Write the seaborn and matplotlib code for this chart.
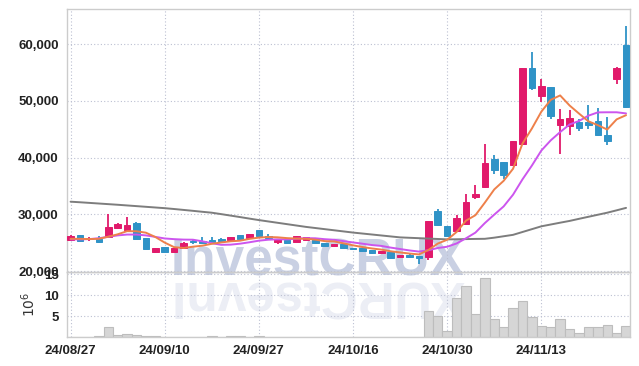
import matplotlib
matplotlib.use("Agg")
import matplotlib.pyplot as plt
import seaborn as sns
import numpy as np
import pandas as pd

# trading days (yy/mm/dd)
dates = ["24/08/27", "24/08/28", "24/08/29", "24/08/30", "24/09/02", "24/09/03", "24/09/04", "24/09/05",
         "24/09/06", "24/09/09", "24/09/10", "24/09/11", "24/09/12", "24/09/13", "24/09/19", "24/09/20",
         "24/09/23", "24/09/24", "24/09/25", "24/09/26", "24/09/27", "24/09/30", "24/10/02", "24/10/04",
         "24/10/07", "24/10/08", "24/10/10", "24/10/11", "24/10/14", "24/10/15", "24/10/16", "24/10/17",
         "24/10/18", "24/10/21", "24/10/22", "24/10/23", "24/10/24", "24/10/25", "24/10/28", "24/10/29",
         "24/10/30", "24/10/31", "24/11/01", "24/11/04", "24/11/05", "24/11/06", "24/11/07", "24/11/08",
         "24/11/11", "24/11/12", "24/11/13", "24/11/14", "24/11/15", "24/11/18", "24/11/19", "24/11/20",
         "24/11/21", "24/11/22", "24/11/25", "24/11/26"]

opens = [25460, 26420, 25600, 25710, 25990, 27650, 27230, 28410, 25820, 23420,
         24230, 23420, 24000, 25290, 25290, 25410, 25710, 25530, 26290, 25820,
         27230, 26240, 25180, 25410, 25120, 25530, 25820, 24940, 24350, 24820,
         23990, 24050, 23700, 23120, 23350, 22530, 22880, 22710, 22530, 30580,
         27880, 27050, 28290, 33060, 34820, 39710, 39180, 38700, 42410, 55770,
         50880, 52420, 45710, 45590, 46240, 46240, 46410, 44060, 53940, 59830]
highs = [26300, 26450, 25950, 26170, 30120, 28450, 29520, 28600, 25900, 24050,
         24250, 24100, 25100, 25700, 25990, 26000, 25900, 26100, 26400, 26600,
         27300, 26600, 25750, 25450, 26200, 26050, 25900, 25000, 24750, 24850,
         24050, 24100, 23750, 23600, 23400, 22880, 22950, 22750, 28800, 31000,
         27950, 29880, 33580, 35170, 42480, 40410, 39250, 43000, 55800, 58540,
         53780, 52500, 48530, 48410, 46770, 49240, 48800, 47170, 55950, 63240]
lows = [25400, 25250, 25300, 25000, 25900, 27350, 27100, 25600, 23900, 23150,
        23400, 23400, 23900, 24800, 24800, 24900, 25100, 25400, 25600, 25700,
        26100, 25700, 24850, 24700, 25050, 25450, 24900, 24300, 24300, 23950,
        23850, 23500, 23050, 23050, 22300, 22450, 22350, 21180, 22000, 27950,
        26100, 26950, 28200, 32770, 34600, 37060, 36180, 38500, 42180, 51940,
        49820, 46890, 40710, 44070, 44700, 45000, 43800, 42300, 53050, 48800]
closes = [26240, 25290, 25800, 25180, 27830, 28360, 28060, 25710, 23950, 24000,
          23420, 24050, 25000, 25060, 24940, 25060, 25240, 25990, 25640, 26530,
          26170, 25760, 25710, 24940, 26120, 25990, 25000, 24410, 24700, 24050,
          23940, 23530, 23120, 23530, 22360, 22830, 22410, 22240, 28760, 28060,
          26170, 29290, 32240, 33530, 39120, 37820, 36880, 42880, 55770, 52360,
          52590, 47350, 46770, 46940, 45240, 45760, 43940, 42940, 55880, 48940]

# volume in millions of shares
volumes = [0.02, 0.02, 0.05, 0.2, 2.3, 0.5, 0.7, 0.5, 0.25, 0.25,
           0.02, 0.02, 0.02, 0.02, 0.02, 0.3, 0.02, 0.25, 0.25, 0.02,
           0.25, 0.02, 0.02, 0.02, 0.02, 0.02, 0.02, 0.02, 0.02, 0.02,
           0.02, 0.02, 0.02, 0.02, 0.02, 0.02, 0.02, 0.02, 6.1, 5.0,
           1.5, 9.3, 12.1, 5.6, 14.0, 4.2, 2.3, 6.8, 8.5, 4.7,
           2.6, 2.3, 4.2, 2.0, 1.05, 2.3, 2.3, 2.8, 1.05, 2.6]

# moving average lines
ma_short = [25700, 25700, 25650, 25700, 26070, 26490, 27050, 27030, 26780, 26020,
            25030, 24230, 24080, 24310, 24490, 24820, 25060, 25260, 25370, 25690,
            25910, 26020, 25960, 25820, 25740, 25700, 25550, 25290, 25240, 24900,
            24550, 24250, 24000, 23800, 23500, 23300, 23100, 22950, 23720, 24860,
            25530, 26900, 28900, 29860, 32070, 34400, 35920, 38050, 42490, 45140,
            48100, 50190, 50970, 49200, 47780, 46410, 45730, 44960, 46750, 47490]
ma_mid = [25600, 25600, 25650, 25800, 26050, 26300, 26450, 26450, 26300, 26040,
          25760, 25640, 25560, 25540, 25260, 24930, 24640, 24670, 24840, 25090,
          25370, 25540, 25610, 25600, 25720, 25810, 25790, 25630, 25530, 25290,
          25060, 24840, 24600, 24450, 24150, 23900, 23650, 23450, 23680, 24080,
          24300, 24880, 25790, 26790, 28470, 29960, 31410, 33480, 36180, 38610,
          41250, 43050, 44510, 45850, 46460, 47400, 47980, 48000, 48000, 47800]
ma_long = [32240, 32140, 32030, 31920, 31810, 31700, 31580, 31460, 31340, 31220,
           31100, 30950, 30790, 30630, 30460, 30300, 30050, 29790, 29530, 29260,
           29000, 28760, 28520, 28280, 28040, 27800, 27600, 27400, 27200, 27000,
           26800, 26630, 26460, 26290, 26120, 25950, 25880, 25810, 25740, 25670,
           25600, 25620, 25650, 25680, 25700, 25900, 26150, 26400, 26900, 27400,
           27900, 28220, 28540, 28850, 29220, 29580, 29940, 30300, 30720, 31150]

price_ticks = [20000, 30000, 40000, 50000, 60000]
volume_ticks = [5, 10, 15]

RED = "#e11a6b"
BLUE = "#2f93c7"

sns.set_style("white")
plt.rcParams["font.family"] = ["Liberation Sans", "DejaVu Sans"]

df = pd.DataFrame({"date": dates, "open": opens, "high": highs, "low": lows,
                   "close": closes, "volume": volumes,
                   "ma5": ma_short, "ma10": ma_mid, "ma120": ma_long})
df["idx"] = np.arange(len(df))

W, H = 639, 366
fig = plt.figure(figsize=(W / 100, H / 100), dpi=100)
fig.patch.set_facecolor("white")


def rect(l, t, r, b):
    return [l / W, 1 - b / H, (r - l) / W, (b - t) / H]


ax = fig.add_axes(rect(67, 9, 630, 272))
axv = fig.add_axes(rect(67, 272, 630, 337), sharex=ax)

# watermark + its reflection, behind the axes
fig.text(318 / W, 1 - 276 / H, "InvestCRUX", ha="center", va="baseline",
         fontsize=37, fontweight="bold", color="#c9d0e3", zorder=-2)
fig.text(318 / W, 1 - 280 / H, "InvestCRUX"[::-1], ha="center", va="baseline",
         rotation=180, rotation_mode="anchor",
         fontsize=37, fontweight="bold", color="#eceef5", zorder=-2)

grid_kw = dict(color="#bcc0d2", linestyle=(0, (1, 2)), linewidth=0.8)
for a in (ax, axv):
    a.set_facecolor("none")
    for s in a.spines.values():
        s.set_color("#cccccc")
        s.set_linewidth(1)
    a.grid(True, **grid_kw)
    a.set_axisbelow(True)
    a.tick_params(length=0, labelsize=9.5, colors="#222222", pad=6)

# candles
up = df["close"] >= df["open"]
colors = np.where(up, RED, BLUE)
body_lo = np.minimum(df["open"], df["close"])
body_h = np.maximum((df["close"] - df["open"]).abs(), 150)
ax.vlines(df["idx"], df["low"], df["high"], colors=colors, linewidth=1.3, zorder=2)
ax.bar(df["idx"], body_h, bottom=body_lo, width=0.7, color=colors,
       edgecolor=colors, linewidth=0.7, zorder=3)

# moving averages
sns.lineplot(data=df, x="idx", y="ma120", ax=ax, color="#7d7d7d", linewidth=1.4, zorder=4)
sns.lineplot(data=df, x="idx", y="ma10", ax=ax, color="#cc55ee", linewidth=1.4, zorder=5)
sns.lineplot(data=df, x="idx", y="ma5", ax=ax, color="#ee804a", linewidth=1.4, zorder=6)

# volume
axv.bar(df["idx"], df["volume"], width=1.0, color="#d6d6d6", edgecolor="#bdbdbd",
        linewidth=0.8, zorder=2)

ax.set_xlim(-0.38, len(df) - 0.58)
ax.set_ylim(19850, 66200)
ax.set_yticks(price_ticks)
ax.set_yticklabels([f"{v:,}" for v in price_ticks], fontweight="bold")
ax.set_xlabel("")
ax.set_ylabel("")
ax.tick_params(labelbottom=False)

tick_idx = df["idx"][::10]
axv.set_xticks(tick_idx)
axv.set_xticklabels(df["date"][::10], fontweight="bold")
axv.set_ylim(0, 15.5)
axv.set_yticks(volume_ticks)
axv.set_yticklabels([str(v) for v in volume_ticks], fontweight="bold")
axv.set_ylabel(r"$10^6$", fontsize=10, color="#333333", labelpad=4)

fig.savefig("out.png", dpi=100)
